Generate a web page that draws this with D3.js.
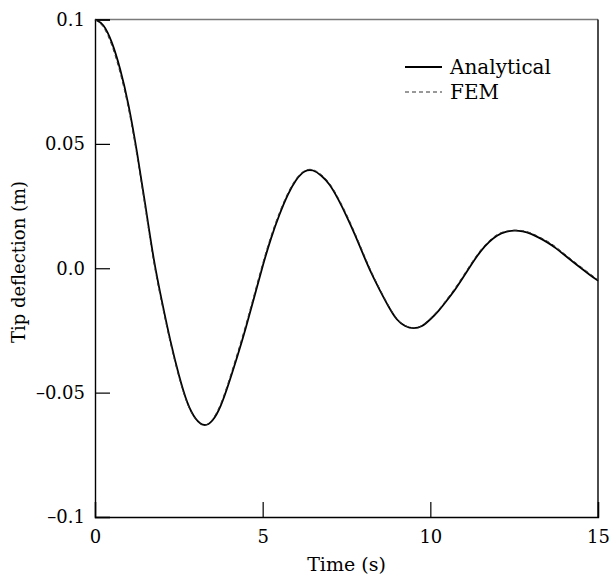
<!DOCTYPE html>
<html>
<head>
<meta charset="utf-8">
<script src="https://cdn.jsdelivr.net/npm/d3@7"></script>
<style>
  body { margin: 0; background: #fff; }
  text { font-family: "DejaVu Serif", serif; fill: #000; }
</style>
</head>
<body>
<div id="chart"></div>
<script>

// time (s)
var times = [0, 0.25, 0.5, 0.75, 1, 1.25, 1.5, 1.75, 2, 2.25, 2.5, 2.75, 3, 3.25, 3.5, 3.75,
    4, 4.25, 4.5, 4.75, 5, 5.25, 5.5, 5.75, 6, 6.25, 6.5, 6.75, 7, 7.25, 7.5, 7.75,
    8, 8.25, 8.5, 8.75, 9, 9.25, 9.5, 9.75, 10, 10.25, 10.5, 10.75, 11, 11.25, 11.5, 11.75,
    12, 12.25, 12.5, 12.75, 13, 13.25, 13.5, 13.75, 14, 14.25, 14.5, 14.75, 15];

// tip deflection (m)
var analytical = [0.1000, 0.0976, 0.0908, 0.0800, 0.0655, 0.0468, 0.0255, 0.0040,
    -0.0135, -0.0292, -0.0428, -0.0538, -0.0604, -0.0630, -0.0612, -0.0552,
    -0.0458, -0.0352, -0.0238, -0.0116, 0.0008, 0.0120, 0.0215, 0.0295,
    0.0355, 0.0389, 0.0393, 0.0372, 0.0335, 0.0278, 0.0210, 0.0135,
    0.0055, -0.0022, -0.0090, -0.0153, -0.0205, -0.0232, -0.0241, -0.0232,
    -0.0205, -0.0170, -0.0128, -0.0083, -0.0032, 0.0020, 0.0068, 0.0105,
    0.0132, 0.0146, 0.0151, 0.0148, 0.0138, 0.0122, 0.0103, 0.0080,
    0.0053, 0.0026, 0.0000, -0.0026, -0.0050];

var fem = [0.1000, 0.0969, 0.0896, 0.0785, 0.0640, 0.0453, 0.0240, 0.0026,
    -0.0147, -0.0302, -0.0436, -0.0543, -0.0607, -0.0631, -0.0608, -0.0544,
    -0.0448, -0.0340, -0.0226, -0.0104, 0.0019, 0.0130, 0.0224, 0.0302,
    0.0360, 0.0392, 0.0396, 0.0376, 0.0340, 0.0284, 0.0217, 0.0142,
    0.0062, -0.0016, -0.0085, -0.0149, -0.0202, -0.0230, -0.0240, -0.0230,
    -0.0202, -0.0166, -0.0123, -0.0077, -0.0026, 0.0026, 0.0073, 0.0110,
    0.0136, 0.0149, 0.0153, 0.0151, 0.0142, 0.0126, 0.0108, 0.0085,
    0.0058, 0.0031, 0.0005, -0.0021, -0.0046];

var xTicks = [0, 5, 10, 15];
var xTickLabels = ["0", "5", "10", "15"];
var yTicks = [-0.1, -0.05, 0, 0.05, 0.1];
var yTickLabels = ["\u20130.1", "\u20130.05", "0.0", "0.05", "0.1"];

var seriesNames = ["Analytical", "FEM"];

var width = 611, height = 577;
var margin = {top: 19.5, right: 13, bottom: 60, left: 95};

var svg = d3.select("#chart").append("svg")
    .attr("width", width)
    .attr("height", height);

var x = d3.scaleLinear()
    .domain([0, 15])
    .range([margin.left, width - margin.right]);

var y = d3.scaleLinear()
    .domain([-0.1, 0.1])
    .range([height - margin.bottom, margin.top]);

// frame
var x0 = x.range()[0], x1 = x.range()[1], yb = y.range()[0], yt = y.range()[1];
svg.append("line").attr("x1", x0).attr("x2", x1).attr("y1", yt).attr("y2", yt)
    .attr("stroke", "#7a7a7a").attr("stroke-width", 1.6);
svg.append("line").attr("x1", x1).attr("x2", x1).attr("y1", yt).attr("y2", yb)
    .attr("stroke", "#000").attr("stroke-width", 1.4);

var xAxis = svg.append("g")
    .attr("transform", "translate(0," + yb + ")")
    .call(d3.axisBottom(x)
        .tickValues(xTicks)
        .tickSize(-15)
        .tickPadding(13)
        .tickFormat(function(d, i) { return xTickLabels[i]; }));

var yAxis = svg.append("g")
    .attr("transform", "translate(" + x0 + ",0)")
    .call(d3.axisLeft(y)
        .tickValues(yTicks)
        .tickSize(-15)
        .tickPadding(10)
        .tickFormat(function(d, i) { return yTickLabels[i]; }));

svg.selectAll(".domain").attr("stroke", "#000").attr("stroke-width", 1.4);
svg.selectAll(".tick line").attr("stroke", "#000").attr("stroke-width", 1.2);
svg.selectAll(".tick text")
    .style("font-family", "'DejaVu Serif', serif")
    .style("font-size", "18px")
    .attr("fill", "#000");

// axis titles
svg.append("text")
    .attr("x", (x0 + x1) / 2)
    .attr("y", 571)
    .attr("text-anchor", "middle")
    .style("font-size", "19px")
    .text("Time (s)");

svg.append("text")
    .attr("transform", "translate(25," + 262 + ") rotate(-90)")
    .attr("text-anchor", "middle")
    .style("font-size", "18px")
    .text("Tip deflection (m)");

// curves
var line = d3.line()
    .x(function(d) { return x(d[0]); })
    .y(function(d) { return y(d[1]); })
    .curve(d3.curveNatural);

svg.append("path")
    .datum(times.map(function(t, i) { return [t, analytical[i]]; }))
    .attr("fill", "none")
    .attr("stroke", "#000")
    .attr("stroke-width", 1.8)
    .attr("d", line);

svg.append("path")
    .datum(times.map(function(t, i) { return [t, fem[i]]; }))
    .attr("fill", "none")
    .attr("stroke", "#333")
    .attr("stroke-width", 1)
    .attr("stroke-dasharray", "4,3")
    .attr("d", line);

// legend
var legend = svg.append("g").attr("transform", "translate(405,67)");
var legendRow = legend.selectAll("g")
    .data(seriesNames)
    .enter().append("g")
    .attr("transform", function(d, i) { return "translate(0," + (i * 25) + ")"; });

legendRow.append("line")
    .attr("x1", 0).attr("x2", 37)
    .attr("y1", 0).attr("y2", 0)
    .attr("stroke", function(d, i) { return i === 0 ? "#000" : "#333"; })
    .attr("stroke-width", function(d, i) { return i === 0 ? 1.8 : 1; })
    .attr("stroke-dasharray", function(d, i) { return i === 0 ? null : "4,3"; });

legendRow.append("text")
    .attr("x", 45)
    .attr("y", 6.5)
    .style("font-size", "20px")
    .text(function(d) { return d; });

</script>
</body>
</html>
